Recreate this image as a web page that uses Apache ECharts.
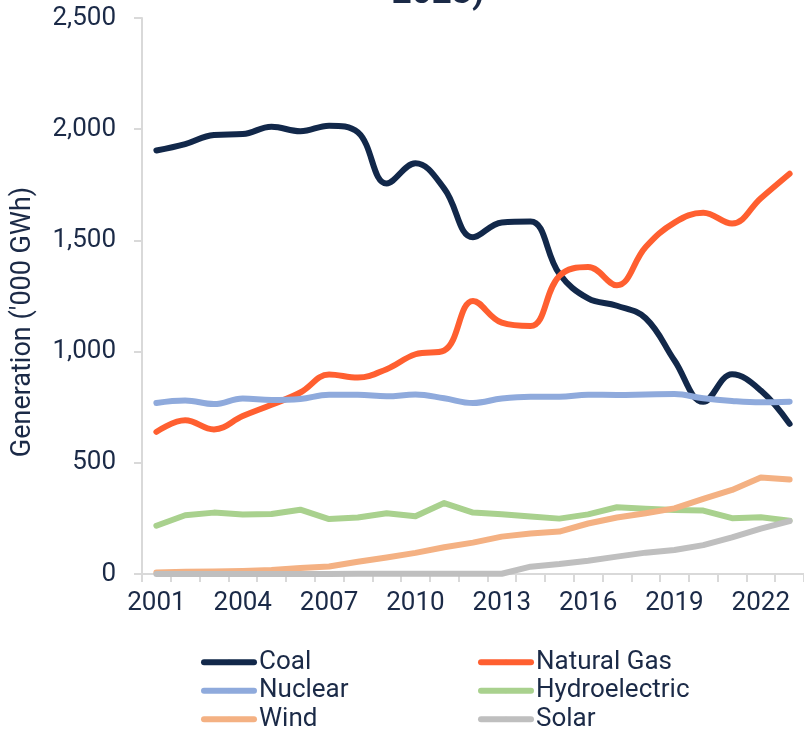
<!DOCTYPE html>
<html>
<head>
<meta charset="utf-8">
<script src="https://cdn.jsdelivr.net/npm/echarts@6/dist/echarts.min.js"></script>
<style>html,body{margin:0;padding:0;background:#fff;}#c{width:804px;height:731px;}</style>
</head>
<body>
<div id="c"></div>
<script>
const years = ['2001','2002','2003','2004','2005','2006','2007','2008','2009','2010','2011','2012','2013','2014','2015','2016','2017','2018','2019','2020','2021','2022','2023'];
const coal = [1904, 1933, 1974, 1978, 2011, 1991, 2016, 1986, 1756, 1847, 1733, 1514, 1581, 1585, 1350, 1239, 1206, 1150, 960, 774, 898, 825, 675];
const naturalGas = [639, 691, 650, 710, 761, 816, 897, 883, 921, 988, 1005, 1228, 1130, 1115, 1340, 1380, 1298, 1470, 1580, 1624, 1576, 1690, 1800];
const nuclear = [769, 780, 764, 789, 782, 787, 806, 806, 799, 807, 790, 769, 789, 797, 797, 806, 805, 807, 809, 790, 778, 772, 775];
const hydroelectric = [217, 264, 276, 268, 270, 289, 247, 254, 273, 260, 319, 276, 269, 259, 249, 268, 300, 293, 288, 285, 251, 255, 240];
const wind = [7, 10, 11, 14, 18, 27, 34, 55, 74, 95, 120, 141, 168, 182, 191, 227, 254, 273, 295, 338, 378, 434, 425];
const solar = [0, 0, 0, 0, 0, 0, 0, 1, 1, 1, 1, 1, 1, 33, 45, 60, 78, 96, 108, 130, 165, 204, 238];
const yTicks = [0, 500, 1000, 1500, 2000, 2500];

const txt = '#1B2A47';
const font = 'Roboto';
const chart = echarts.init(document.getElementById('c'));
function line(name, data, color, width, smooth) {
  return {
    name, type: 'line', data, smooth: smooth ? 0.4 : false, symbol: 'none',
    lineStyle: { color, width, cap: 'round', join: 'round' },
    itemStyle: { color }
  };
}
const legendBase = {
  orient: 'vertical', top: 648, height: 200,
  itemWidth: 50, itemHeight: 6, itemGap: 0, padding: 0,
  lineStyle: { width: 6, cap: 'round' },
  textStyle: { fontFamily: font, fontSize: 26, color: txt, lineHeight: 28.5 }
};
chart.setOption({
  animation: false,
  title: {
    text: '2023)', left: 433, textAlign: 'center', top: -28,
    textStyle: { fontFamily: font, fontSize: 35, fontWeight: 'bold', color: txt }
  },
  grid: { left: 142, top: 18, width: 669, height: 556, containLabel: false },
  xAxis: {
    type: 'category', data: years, boundaryGap: true,
    axisLine: { lineStyle: { color: '#D9D9D9', width: 2 } },
    axisTick: { show: true, interval: 0, length: 8, lineStyle: { color: '#D9D9D9', width: 2 } },
    axisLabel: { interval: 2, margin: 16, fontFamily: font, fontSize: 26, color: txt }
  },
  yAxis: {
    type: 'value', min: yTicks[0], max: yTicks[yTicks.length - 1], interval: 500,
    axisLine: { show: true, lineStyle: { color: '#D9D9D9', width: 2 } },
    axisTick: { show: true, length: 8, lineStyle: { color: '#D9D9D9', width: 2 } },
    splitLine: { show: false },
    axisLabel: {
      margin: 26, fontFamily: font, fontSize: 26, color: txt,
      formatter: v => v.toLocaleString('en-US')
    }
  },
  graphic: [{
    type: 'text', x: 23, y: 322, rotation: Math.PI / 2,
    style: { text: "Generation ('000 GWh)", fontFamily: font, fontSize: 27, fill: txt, align: 'center', verticalAlign: 'middle' }
  }],
  legend: [
    Object.assign({}, legendBase, { data: ['Coal', 'Nuclear', 'Wind'], left: 201 }),
    Object.assign({}, legendBase, { data: ['Natural Gas', 'Hydroelectric', 'Solar'], left: 478 })
  ],
  series: [
    line('Coal', coal, '#12284A', 6, true),
    line('Natural Gas', naturalGas, '#FF5F30', 6, true),
    line('Nuclear', nuclear, '#8FAADC', 6, true),
    line('Hydroelectric', hydroelectric, '#A9D18E', 6, false),
    line('Wind', wind, '#F4B183', 6, false),
    line('Solar', solar, '#BFBFBF', 6, false)
  ]
});
</script>
</body>
</html>
